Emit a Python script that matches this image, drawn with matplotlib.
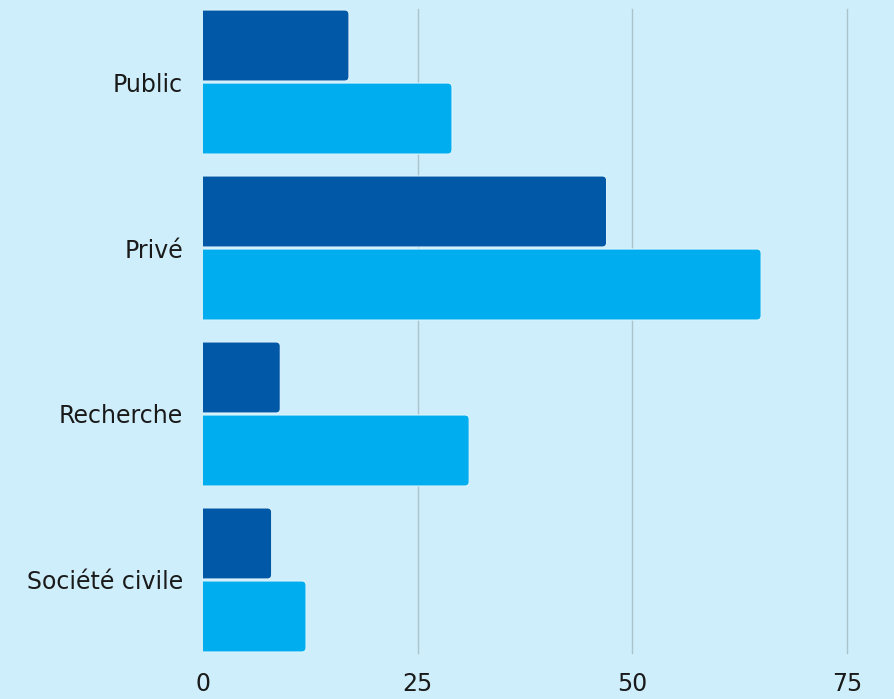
import matplotlib
matplotlib.use('Agg')
import matplotlib.pyplot as plt
from matplotlib.patches import FancyBboxPatch

categories = ['Public', 'Privé', 'Recherche', 'Société civile']
series_dark = [17, 47, 9, 8]
series_light = [29, 65, 31, 12]
x_ticks = [0, 25, 50, 75]

BG = '#cdeefa'
DARK = '#0058a7'
LIGHT = '#00aeef'

plt.rcParams['font.family'] = ['DejaVu Sans']

W, H = 895, 699
fig = plt.figure(figsize=(W / 100, H / 100), dpi=100)
fig.patch.set_facecolor(BG)
ax = fig.add_axes([203 / W, (H - 653) / H, 644 / W, 644 / H])
ax.set_facecolor(BG)

ax.set_xlim(0, 75)
ax.set_ylim(3.44, -0.44)

# px per unit, used to keep the corner rounding circular
px_x = 644 / 75
px_y = 644 / 3.88
aspect = px_x / px_y

bar_h = 0.428
offset = 0.22
for i, (d, l) in enumerate(zip(series_dark, series_light)):
    for val, off, col in ((d, -offset, DARK), (l, offset, LIGHT)):
        box = FancyBboxPatch((-1, i + off - bar_h / 2), val + 1, bar_h,
                             boxstyle='round,pad=0,rounding_size=0.5',
                             mutation_aspect=aspect,
                             facecolor=col, edgecolor='#dff5fd', linewidth=0.8,
                             zorder=3)
        ax.add_patch(box)

for x in x_ticks[1:]:
    ax.axvline(x, color='#aac4cd', linewidth=1, zorder=1, clip_on=False)

ax.set_yticks(range(len(categories)))
ax.set_yticklabels(categories, fontsize=17, color='#1a1a1a')
ax.set_xticks(x_ticks)
ax.set_xticklabels([str(t) for t in x_ticks], fontsize=17, color='#1a1a1a')
ax.tick_params(axis='both', length=0)
ax.tick_params(axis='y', pad=14.4)
ax.tick_params(axis='x', pad=14)
for s in ax.spines.values():
    s.set_visible(False)

fig.savefig('out.png', dpi=100, facecolor=BG)
